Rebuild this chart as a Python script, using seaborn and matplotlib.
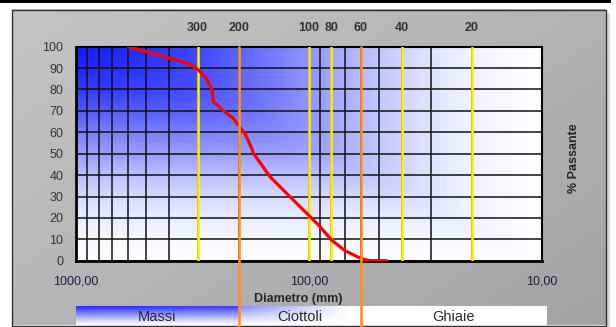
import numpy as np
import matplotlib
matplotlib.use("Agg")
import matplotlib.pyplot as plt
import seaborn as sns
from matplotlib.patches import Rectangle
from matplotlib.ticker import FixedLocator, NullLocator, LogLocator, NullFormatter, FuncFormatter

# ---------------- data ----------------
diametro = [596, 395, 324, 300, 275, 261, 257, 233, 211, 200, 188, 176, 173,
            147, 120.5, 100.5, 89.5, 80, 70, 60, 54.6, 46.3]
passante = [100, 94.6, 91.9, 89.4, 85.2, 79.8, 74.3, 70.1, 66.5, 63, 59.5, 52.5, 50.2,
            39.3, 29.9, 21.4, 15.9, 9.7, 4.7, 1.1, 0, 0]
setacci_gialli = [300, 100, 80, 40, 20]
setacci_arancio = [200, 60]
etichette_sopra = [300, 200, 100, 80, 60, 40, 20]
classi = ["Massi", "Ciottoli", "Ghiaie"]
limiti_classi = [1000, 200, 60, 9.5]
x_ticks = [1000, 100, 10]
y_ticks = [0, 10, 20, 30, 40, 50, 60, 70, 80, 90, 100]

# ---------------- figure ----------------
sns.set_style("white")
plt.rcParams['font.family'] = ['Liberation Sans', 'DejaVu Sans']

W, H = 616, 327
fig = plt.figure(figsize=(W / 100, H / 100), dpi=100)
fig.patch.set_facecolor("white")

def rect(l, t, r, b):
    return [l / W, 1 - b / H, (r - l) / W, (b - t) / H]

# background frame
bg = fig.add_axes([0, 0, 1, 1], zorder=-5)
bg.set_xlim(0, W)
bg.set_ylim(H, 0)
bg.axis("off")
bg.add_patch(Rectangle((0, 0), 611, 3.4, color="black", lw=0))
bg.add_patch(Rectangle((606, 13), 4, 314, color="#d9d9d9", lw=0))
yy, xx = np.mgrid[0:1:200j, 0:1:300j]
g = 0.77 - 0.13 * (0.55 * xx + 0.45 * yy)
bg.imshow(np.dstack([g, g, g]), extent=(12, 606, 325.5, 9.5), aspect="auto",
          interpolation="bilinear")
bg.add_patch(Rectangle((12, 9.5), 594, 316, fill=False, ec="#303030", lw=1))
bg.set_xlim(0, W)
bg.set_ylim(H, 0)

# main axes
L, R, T, B = 76, 541.7, 46.7, 260.7
ax = fig.add_axes(rect(L, T, R, B), zorder=2)
ax.set_facecolor("none")
ax.set_xscale("log")
ax.set_xlim(1000, 10)
ax.set_ylim(0, 100)

# plot-area gradient (row 0 = top)
yy, xx = np.mgrid[0:1:240j, 0:1:400j]
fx = np.interp(xx, [0, .25, .4, .5, .6, .75, .85, 1], [1, .75, .55, .42, .28, .12, .05, 0])
fy = np.interp(yy, [0, .2, .3, .4, .5, .6, .7, .8, .9, 1], [1, .8, .65, .5, .38, .25, .15, .08, .03, 0])
p = 6.0
wgt = (np.maximum(fx, 1e-4) ** -p + np.maximum(fy, 1e-4) ** -p) ** (-1 / p)
wgt = np.clip(wgt / wgt.max(), 0, 1)
blue = np.array([0.07, 0.11, 1.0])
white = np.array([1.0, 1.0, 1.0])
img = white[None, None, :] * (1 - wgt[..., None]) + blue[None, None, :] * wgt[..., None]
ax.imshow(img, extent=(0, 1, 0, 1), transform=ax.transAxes, aspect="auto",
          interpolation="bilinear", zorder=0)
ax.set_xlim(1000, 10)
ax.set_ylim(0, 100)

# grid
ax.xaxis.set_major_locator(FixedLocator(x_ticks))
ax.xaxis.set_minor_locator(LogLocator(base=10, subs=np.arange(2, 10)))
ax.xaxis.set_minor_formatter(NullFormatter())
ax.xaxis.set_major_formatter(FuncFormatter(lambda v, p: f"{v:.2f}".replace(".", ",")))
ax.yaxis.set_major_locator(FixedLocator(y_ticks))
ax.yaxis.set_minor_locator(NullLocator())
ax.grid(which="both", axis="x", color="#111111", lw=1.1)
ax.grid(which="major", axis="y", color="#111111", lw=1.1)

# sieve lines
for d in setacci_gialli:
    ax.axvline(d, color="#ffee00", lw=1.9, zorder=3)
for d in setacci_arancio:
    ax.axvline(d, ymin=-(H - B) / (B - T), ymax=1, color="#ff9414", lw=1.9,
               zorder=6, clip_on=False)

# curve
sns.lineplot(x=diametro, y=passante, ax=ax, color="#ff0000", lw=2.3, zorder=5,
             estimator=None, sort=False)

for d in etichette_sopra:
    ax.text(d, 1.087, str(d), transform=ax.get_xaxis_transform(), ha="center",
            va="center", fontsize=9, fontweight="bold", color="#333333")

ax.tick_params(axis="x", which="major", length=3, width=1.2, color="black",
               pad=8, labelsize=9, labelcolor="#1e1e3c")
ax.tick_params(axis="x", which="minor", length=0)
ax.tick_params(axis="y", length=0, pad=9, labelsize=9, labelcolor="#333333")
ax.set_xlabel("Diametro (mm)", fontsize=9, fontweight="bold")
ax.xaxis.set_label_coords((298 - L) / (R - L), -(292.7 - B) / (B - T))
ax.set_ylabel("% Passante", fontsize=9, fontweight="bold", rotation=90)
ax.yaxis.set_label_position("right")
ax.yaxis.set_label_coords((568 - L) / (R - L), 0.48)
for side in ["left", "bottom"]:
    ax.spines[side].set_linewidth(2)
    ax.spines[side].set_color("black")
for side in ["top", "right"]:
    ax.spines[side].set_linewidth(1.5)
    ax.spines[side].set_color("black")
    ax.spines[side].set_visible(True)

# class band
band_r = 546.7
bax = fig.add_axes(rect(L, 306, band_r, 325.3), zorder=1)
decade = (R - L) / 2
lo = 3.0
hi = 3.0 - (band_r - L) / decade
bax.set_xscale("log")
bax.set_xlim(10 ** lo, 10 ** hi)
bax.set_ylim(0, 1)
bax.axis("off")
ncol = 600
f = np.linspace(0, 1, ncol)
dcol = 10 ** (lo + f * (hi - lo))
wh = np.zeros(ncol)
m1 = dcol > limiti_classi[1]
m2 = (dcol <= limiti_classi[1]) & (dcol > limiti_classi[2])
wh[m1] = 1.0 - 0.12 * (np.log10(limiti_classi[0] / dcol[m1]) / np.log10(limiti_classi[0] / limiti_classi[1]))
t2 = np.log10(limiti_classi[1] / dcol[m2]) / np.log10(limiti_classi[1] / limiti_classi[2])
wh[m2] = 0.55 * np.clip(1 - 1.1 * t2, 0, 1)
vy = np.linspace(0, 1, 40)[:, None]
wb = wh[None, :] * (1 - vy) ** 1.1
bimg = white[None, None, :] * (1 - wb[..., None]) + blue[None, None, :] * wb[..., None]
bax.imshow(bimg, extent=(0, 1, 0, 1), transform=bax.transAxes, aspect="auto",
           interpolation="bilinear")
bax.set_xlim(10 ** lo, 10 ** hi)
bax.set_ylim(0, 1)
for i, nome in enumerate(classi):
    xc = np.sqrt(limiti_classi[i] * limiti_classi[i + 1])
    bax.text(xc, 0.45, nome, ha="center", va="center", fontsize=10.5, color="#2a2a2a")

fig.savefig("out.png", dpi=100)
